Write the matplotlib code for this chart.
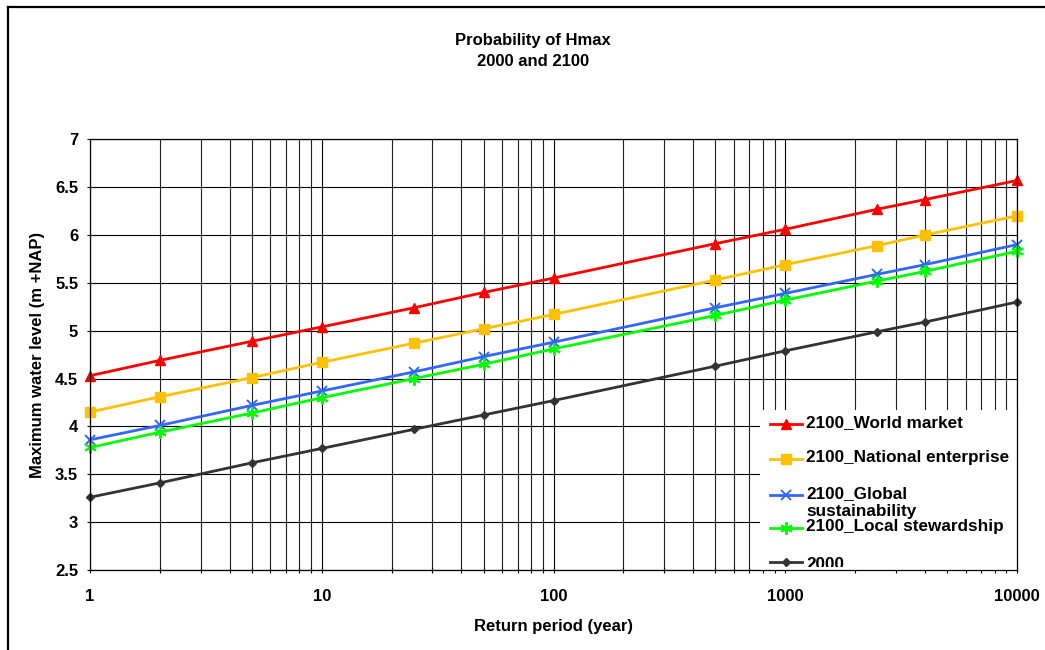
import matplotlib
matplotlib.use("Agg")
import matplotlib.pyplot as plt
from matplotlib.lines import Line2D
from matplotlib.patches import Rectangle
from matplotlib.transforms import Bbox, TransformedBbox
from matplotlib.ticker import LogLocator, NullFormatter, FixedLocator, FixedFormatter

plt.rcParams['font.family'] = ['Liberation Sans', 'DejaVu Sans']
plt.rcParams['font.weight'] = 'bold'

# Return periods (years)
return_period = [1, 2, 5, 10, 25, 50, 100, 500, 1000, 2500, 4000, 10000]

# Maximum water level (m +NAP) per scenario
world_market = [4.53, 4.69, 4.89, 5.04, 5.24, 5.40, 5.55, 5.91, 6.06, 6.27, 6.37, 6.57]
national_enterprise = [4.15, 4.31, 4.51, 4.67, 4.87, 5.02, 5.17, 5.53, 5.69, 5.89, 6.00, 6.20]
global_sustainability = [3.86, 4.01, 4.22, 4.37, 4.57, 4.73, 4.88, 5.24, 5.39, 5.59, 5.69, 5.90]
local_stewardship = [3.78, 3.94, 4.14, 4.30, 4.50, 4.65, 4.81, 5.16, 5.32, 5.52, 5.62, 5.83]
year_2000 = [3.26, 3.41, 3.62, 3.77, 3.97, 4.12, 4.27, 4.63, 4.79, 4.99, 5.09, 5.30]

series_labels = ["2100_World market", "2100_National enterprise",
                 "2100_Global\nsustainability", "2100_Local stewardship", "2000"]
x_tick_values = [1, 10, 100, 1000, 10000]
x_tick_labels = ["1", "10", "100", "1000", "10000"]
y_tick_values = [2.5, 3, 3.5, 4, 4.5, 5, 5.5, 6, 6.5, 7]
y_tick_labels = ["2.5", "3", "3.5", "4", "4.5", "5", "5.5", "6", "6.5", "7"]

styles = [
    dict(color="#FF0000", marker="^", ms=7),
    dict(color="#FFC000", marker="s", ms=6.5),
    dict(color="#3366FF", marker="x", ms=7, mew=1.4),
    dict(color="#00FF00", marker=(6, 2, 0), ms=9, mew=1.4),
    dict(color="#333333", marker="D", ms=4.5),
]
values = [world_market, national_enterprise, global_sustainability,
          local_stewardship, year_2000]

W, H = 1045, 650
fig = plt.figure(figsize=(W / 100, H / 100), dpi=100)
fig.patch.set_facecolor("white")

# outer frame (left and top edges)
fig.add_artist(Line2D([7.5 / W, 7.5 / W], [0, 1 - 7 / H], transform=fig.transFigure,
                      color="black", lw=1.6))
fig.add_artist(Line2D([7.5 / W, 1], [1 - 7 / H, 1 - 7 / H], transform=fig.transFigure,
                      color="black", lw=1.6))

left, right, top, bottom = 90, 1017, 139.3, 570
ax = fig.add_axes([left / W, (H - bottom) / H, (right - left) / W, (bottom - top) / H])
ax.set_xscale("log")
ax.set_xlim(1, 10000)
ax.set_ylim(2.5, 7)

for vals, st in zip(values, styles):
    ax.plot(return_period, vals, lw=2.0, clip_on=False, zorder=2,
            color=st["color"], marker=st["marker"], ms=st["ms"],
            mew=st.get("mew", 1.0), mfc=st["color"], mec=st["color"])

ax.xaxis.set_major_locator(FixedLocator(x_tick_values))
ax.xaxis.set_major_formatter(FixedFormatter(x_tick_labels))
ax.xaxis.set_minor_locator(LogLocator(base=10, subs=range(2, 10)))
ax.xaxis.set_minor_formatter(NullFormatter())
ax.yaxis.set_major_locator(FixedLocator(y_tick_values))
ax.yaxis.set_major_formatter(FixedFormatter(y_tick_labels))

ax.set_axisbelow(True)
ax.grid(True, which="major", axis="both", color="black", lw=0.8)
ax.grid(True, which="minor", axis="x", color="#202020", lw=0.8)

ax.tick_params(axis="x", which="both", direction="inout", length=5, width=0.8,
               pad=11, labelsize=12)
ax.tick_params(axis="y", which="both", direction="inout", length=5, width=0.8,
               pad=6, labelsize=12)
for lab in ax.get_xticklabels() + ax.get_yticklabels():
    lab.set_fontweight("bold")
for sp in ax.spines.values():
    sp.set_color("black")
    sp.set_linewidth(0.9)
    sp.set_zorder(4)

ax.set_xlabel("Return period (year)", fontsize=12, fontweight="bold", labelpad=11)
ax.set_ylabel("Maximum water level (m +NAP)", fontsize=12, fontweight="bold", labelpad=7)

fig.text(533 / W, 1 - 41 / H, "Probability of Hmax", ha="center", va="center",
         fontsize=12, fontweight="bold")
fig.text(533 / W, 1 - 62 / H, "2000 and 2100", ha="center", va="center",
         fontsize=12, fontweight="bold")

# legend block in the lower right corner of the plot area
def ax_x(px):
    return (px - left) / (right - left)

def ax_y(py):
    return (bottom - py) / (bottom - top)

ax.add_patch(Rectangle((ax_x(760), 0), ax_x(right) - ax_x(760), ax_y(410),
                       transform=ax.transAxes, facecolor="white", edgecolor="none",
                       zorder=2.2))
# the legend's lowest entry is cut off at the bottom of the legend box
legend_clip = TransformedBbox(Bbox([[ax_x(760), ax_y(567)], [1.0, ax_y(410)]]),
                              ax.transAxes)
row_y = [424, 459, 495, 528, 562]
text_top = [415, 450, 486, 519, 557]
for i, (label, st) in enumerate(zip(series_labels, styles)):
    yy = ax_y(row_y[i])
    ax.add_line(Line2D([ax_x(770), ax_x(802)], [yy, yy], transform=ax.transAxes,
                       color=st["color"], lw=2.0, zorder=3))
    ax.add_line(Line2D([ax_x(786)], [yy], transform=ax.transAxes,
                       color=st["color"], marker=st["marker"], ms=st["ms"],
                       mew=st.get("mew", 1.0), mfc=st["color"], mec=st["color"],
                       zorder=3))
    t = ax.text(ax_x(806), ax_y(text_top[i]), label, transform=ax.transAxes,
                ha="left", va="top", fontsize=12.3, fontweight="bold",
                linespacing=1.22, zorder=3)
    t.set_clip_box(legend_clip)
    t.set_clip_on(True)

fig.savefig("out.png", dpi=100, facecolor="white")
